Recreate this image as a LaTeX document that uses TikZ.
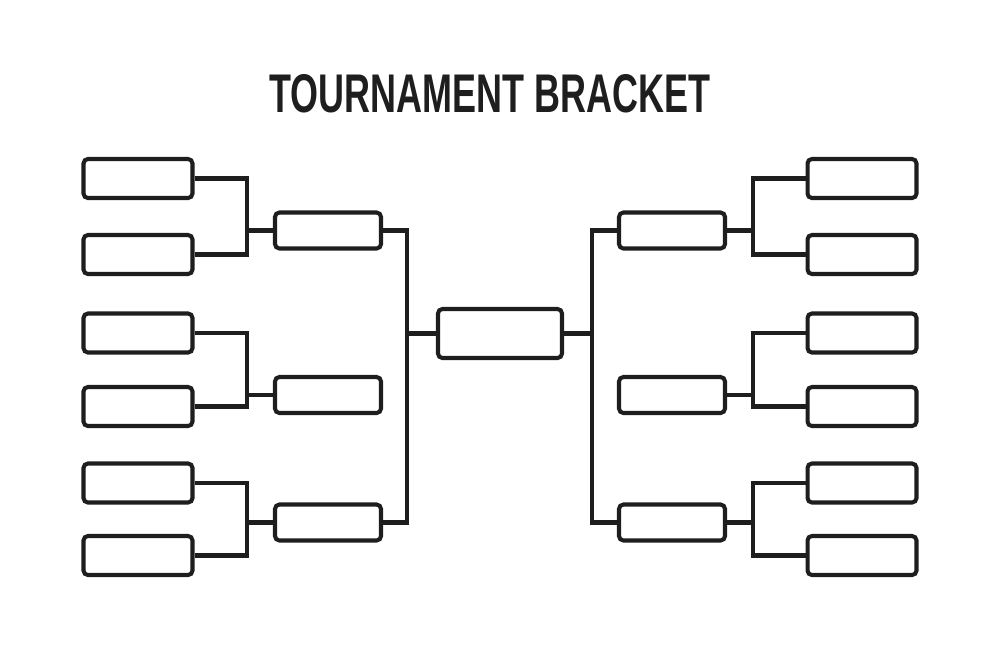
\documentclass[tikz,border=0pt]{standalone}
\usepackage{xcolor}
\usepackage{fontspec}
\usepackage{tikz}
\newfontfamily\titlefont{Liberation Sans}[FakeStretch=0.66]
\definecolor{ink}{HTML}{1E1E1E}

\tikzset{
  slot/.style={rectangle,rounded corners=2.5pt,draw=ink,line width=2.3pt,fill=white,inner sep=0pt},
  firstslot/.style={slot,minimum width=2.18cm,minimum height=0.78cm},
  secondslot/.style={slot,minimum width=2.12cm,minimum height=0.72cm},
  finalslot/.style={slot,minimum width=2.48cm,minimum height=0.98cm},
  link/.style={draw=ink,line width=2.3pt}
}

\begin{document}
\begin{tikzpicture}[x=0.02cm,y=-0.02cm]
\useasboundingbox (0,0) rectangle (1000,667);
\node[font=\titlefont\fontsize{31}{31}\bfseries,text=ink,anchor=base,inner sep=0pt] (title) at (490,112) {TOURNAMENT BRACKET};

% left side, first round
\node[firstslot] (la1) at (138,178.5) {};
\node[firstslot] (la2) at (138,254.5) {};
\node[firstslot] (la3) at (138,333) {};
\node[firstslot] (la4) at (138,406.5) {};
\node[firstslot] (la5) at (138,483) {};
\node[firstslot] (la6) at (138,555.5) {};
% left side, second round
\node[secondslot] (lb1) at (328,230.5) {};
\node[secondslot] (lb2) at (328,395) {};
\node[secondslot] (lb3) at (328,522.5) {};
% final
\node[finalslot] (fin) at (500,333.5) {};
% right side, second round
\node[secondslot] (rb1) at (672,230.5) {};
\node[secondslot] (rb2) at (672,395) {};
\node[secondslot] (rb3) at (672,522.5) {};
% right side, first round
\node[firstslot] (ra1) at (862,178.5) {};
\node[firstslot] (ra2) at (862,254.5) {};
\node[firstslot] (ra3) at (862,333) {};
\node[firstslot] (ra4) at (862,406.5) {};
\node[firstslot] (ra5) at (862,483) {};
\node[firstslot] (ra6) at (862,555.5) {};

% junctions
\coordinate (lj1) at (247,230.5);
\coordinate (lj2) at (247,395);
\coordinate (lj3) at (247,522.5);
\coordinate (lk) at (407,333.5);
\coordinate (rk) at (592,333.5);
\coordinate (rj1) at (753,230.5);
\coordinate (rj2) at (753,395);
\coordinate (rj3) at (753,522.5);

\draw[link] (la1.east) -| (lj1) |- (la2.east);
\draw[link] (lj1) -- (lb1.west);
\draw[link] (la3.east) -| (lj2) |- (la4.east);
\draw[link] (lj2) -- (lb2.west);
\draw[link] (la5.east) -| (lj3) |- (la6.east);
\draw[link] (lj3) -- (lb3.west);
\draw[link] (lb1.east) -| (lk) |- (lb3.east);
\draw[link] (lk) -- (fin.west);

\draw[link] (ra1.west) -| (rj1) |- (ra2.west);
\draw[link] (rj1) -- (rb1.east);
\draw[link] (ra3.west) -| (rj2) |- (ra4.west);
\draw[link] (rj2) -- (rb2.east);
\draw[link] (ra5.west) -| (rj3) |- (ra6.west);
\draw[link] (rj3) -- (rb3.east);
\draw[link] (rb1.west) -| (rk) |- (rb3.west);
\draw[link] (rk) -- (fin.east);
\end{tikzpicture}
\end{document}
